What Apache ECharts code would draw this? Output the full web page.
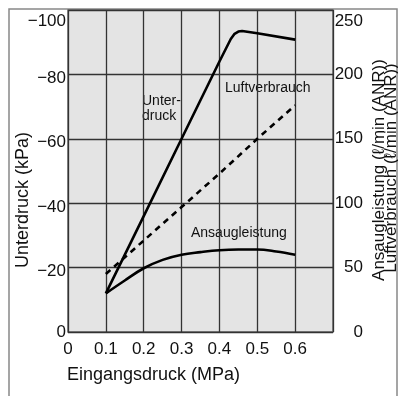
<!DOCTYPE html>
<html><head><meta charset="utf-8">
<script src="https://cdn.jsdelivr.net/npm/echarts@6/dist/echarts.min.js"></script>
<style>html,body{margin:0;padding:0;background:#fff}#c{width:398px;height:396px}</style>
</head><body><div id="c"></div>
<script>
// Data
const xTickLabels = ['0','0.1','0.2','0.3','0.4','0.5','0.6'];
const leftTicks = [-100,-80,-60,-40,-20,0];
const rightTicks = [0,50,100,150,200,250];
const unterX = [0.1,0.2,0.3,0.4,0.43,0.44,0.45,0.46,0.5,0.6];
const unterY = [-12,-36,-60,-84,-91,-92.6,-93.3,-93.5,-92.8,-90.8];
const ansaugX = [0.1,0.15,0.2,0.25,0.3,0.35,0.4,0.45,0.5,0.55,0.6];
const ansaugY = [30,40,49.5,56,60,62,63.5,64,64,62.5,60];
const luftX = [0.1,0.2,0.3,0.4,0.5,0.6];
const luftY = [45,71,97,123,150,176];

const FF = "'Liberation Sans', Arial, sans-serif";
const zip = (xs, ys) => xs.map((x, i) => [x, ys[i]]);

const chart = echarts.init(document.getElementById('c'), null, {renderer: 'canvas'});
chart.setOption({
  animation: false,
  backgroundColor: '#fff',
  grid: {left: 68, right: 65, top: 10, bottom: 64, show: true,
         backgroundColor: '#e4e4e4', borderColor: '#666', borderWidth: 1.5},
  xAxis: {
    type: 'value', min: 0, max: 0.7, interval: 0.1,
    axisLine: {show: false}, axisTick: {show: false},
    splitLine: {show: true, lineStyle: {color: '#333', width: 1.3}},
    axisLabel: {fontFamily: FF, fontSize: 17, color: '#111', margin: 9,
      formatter: v => { const i = Math.round(v * 10); return i < xTickLabels.length ? xTickLabels[i] : ''; }}
  },
  yAxis: [{
    type: 'value', min: -100, max: 0, interval: 20, inverse: true,
    axisLine: {show: false}, axisTick: {show: false},
    splitLine: {show: true, lineStyle: {color: '#333', width: 1.3}},
    axisLabel: {fontFamily: FF, fontSize: 17, color: '#111', margin: 2,
      formatter: v => {
        const s = v < 0 ? '\u2212' + Math.abs(v) : String(v);
        if (v === leftTicks[0]) return '{top|' + s + '}';
        if (v === 0) return s;
        return '{mid|' + s + '}';
      },
      rich: {top: {fontFamily: FF, fontSize: 17, color: '#111', padding: [22,0,0,0]},
             mid: {fontFamily: FF, fontSize: 17, color: '#111', padding: [8,0,0,0]}}}
  }, {
    type: 'value', min: 0, max: 250, interval: 50, position: 'right',
    axisLine: {show: false}, axisTick: {show: false}, splitLine: {show: false},
    axisLabel: {fontFamily: FF, fontSize: 17, color: '#111', margin: 30, align: 'right',
      formatter: v => v === rightTicks[rightTicks.length - 1] ? '{top|' + v + '}' : String(v),
      rich: {top: {fontFamily: FF, fontSize: 17, color: '#111', padding: [22,0,0,0]}}}
  }],
  series: [
    {name: 'Unterdruck', type: 'line', yAxisIndex: 0, data: zip(unterX, unterY),
     showSymbol: false, smooth: false, lineStyle: {color: '#000', width: 2.6}},
    {name: 'Ansaugleistung', type: 'line', yAxisIndex: 1, data: zip(ansaugX, ansaugY),
     showSymbol: false, smooth: 0.4, lineStyle: {color: '#000', width: 2.6}},
    {name: 'Luftverbrauch', type: 'line', yAxisIndex: 1, data: zip(luftX, luftY),
     showSymbol: false, lineStyle: {color: '#000', width: 2.6, type: [6, 5]}}
  ],
  graphic: [
    {type: 'rect', silent: true, z: -1, shape: {x: 9, y: 9, width: 388, height: 400},
     style: {fill: 'none', stroke: '#888', lineWidth: 1.5}},
    {type: 'text', x: 142, y: 94, style: {text: 'Unter-\ndruck', font: '14px ' + FF, fill: '#111', lineHeight: 15}},
    {type: 'text', x: 225, y: 81, style: {text: 'Luftverbrauch', font: '14px ' + FF, fill: '#111'}},
    {type: 'text', x: 191, y: 226, style: {text: 'Ansaugleistung', font: '14px ' + FF, fill: '#111'}},
    {type: 'text', x: 67, y: 366, style: {text: 'Eingangsdruck (MPa)', font: '18px ' + FF, fill: '#111'}},
    {type: 'text', x: 23, y: 200, rotation: Math.PI / 2,
     style: {text: 'Unterdruck (kPa)', font: '18px ' + FF, fill: '#111', align: 'center', verticalAlign: 'middle'}},
    {type: 'text', x: 379, y: 170, rotation: Math.PI / 2,
     style: {text: 'Ansaugleistung (\u2113/min (ANR))', font: '17px ' + FF, fill: '#111', align: 'center', verticalAlign: 'middle'}},
    {type: 'text', x: 391, y: 168, rotation: Math.PI / 2,
     style: {text: 'Luftverbrauch (\u2113/min (ANR))', font: '17px ' + FF, fill: '#111', align: 'center', verticalAlign: 'middle'}}
  ]
});
</script></body></html>
